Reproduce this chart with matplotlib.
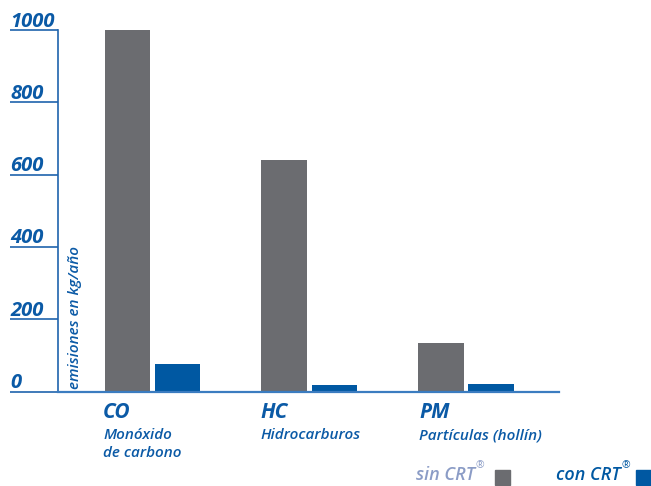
import numpy as np
import matplotlib
matplotlib.use('Agg')
from matplotlib import pyplot as plt
from matplotlib import transforms
from matplotlib.patches import Rectangle

plt.rcParams['font.family'] = ['Open Sans', 'DejaVu Sans']

codes = ['CO', 'HC', 'PM']
names = ['Monóxido\nde carbono', 'Hidrocarburos', 'Partículas (hollín)']
sin_crt = [1000, 640, 135]
con_crt = [75, 18, 20]
yticks = [0, 200, 400, 600, 800, 1000]

GREY = '#6b6c70'
BLUE = '#0058a2'
TEXT_BLUE = '#0b5aa6'
LIGHT = '#8b9cc6'

W, H = 651, 486
fig = plt.figure(figsize=(W / 100, H / 100), dpi=100)


def px(x, y):
    return x / W, 1 - y / H


ax = fig.add_axes([58 / W, 1 - 391.5 / H, 501 / W, 361.5 / H])

x = np.arange(len(codes))
width = 0.29
off = 0.16
ax.bar(x - off, sin_crt, width, color=GREY, zorder=2)
ax.bar(x + off, con_crt, width, color=BLUE, zorder=2)

ax.set_xlim(-0.603, 2.593)
ax.set_ylim(0, 1000)
ax.set_xticks([])
ax.set_yticks(yticks)
ax.set_yticklabels([])
ax.tick_params(axis='y', direction='out', length=34.5, width=1.2, color='#1f63ad')
for side in ['top', 'right']:
    ax.spines[side].set_visible(False)
ax.spines['left'].set_color('#1f63ad')
ax.spines['left'].set_linewidth(1.2)
ax.spines['bottom'].set_color('#3b7cc0')
ax.spines['bottom'].set_linewidth(1.6)

# y tick labels sit on top of the long tick lines
trans = transforms.blended_transform_factory(fig.transFigure, ax.transData)
trans = trans + transforms.ScaledTranslation(0, 3.5 / 100, fig.dpi_scale_trans)
for v in yticks:
    ax.text(10 / W, v, str(v), transform=trans, ha='left', va='baseline',
            fontsize=14.5, fontstyle='italic', fontweight='bold', color=TEXT_BLUE,
            clip_on=False)

fig.text(*px(75, 389), 'emisiones en kg/año', rotation=90, ha='center', va='bottom',
         fontsize=11, fontstyle='italic', fontweight='semibold', color=TEXT_BLUE)

# category labels under each group
left_edges = [103, 260, 419]
for xl, code, name in zip(left_edges, codes, names):
    fig.text(*px(xl, 418), code, ha='left', va='baseline', fontsize=15,
             fontstyle='italic', fontweight='bold', color=TEXT_BLUE)
    fig.text(*px(xl, 428), name, ha='left', va='top', fontsize=11,
             fontstyle='italic', fontweight='semibold', color=TEXT_BLUE,
             linespacing=1.4)

# legend
legend = [('sin CRT', LIGHT, GREY, 475, 495), ('con CRT', BLUE, BLUE, 621, 636)]
for label, tcol, fcol, xr, xs in legend:
    fig.text(*px(xr, 480), label, ha='right', va='baseline', fontsize=13,
             fontstyle='italic', fontweight='semibold', color=tcol)
    fig.text(*px(xr + 1, 460), '®', ha='left', va='top', fontsize=7.5,
             color=tcol)
    fig.patches.append(Rectangle(px(xs, 485), 15 / W, 15 / H, color=fcol,
                                 transform=fig.transFigure, figure=fig))

fig.savefig('out.png', dpi=100)
